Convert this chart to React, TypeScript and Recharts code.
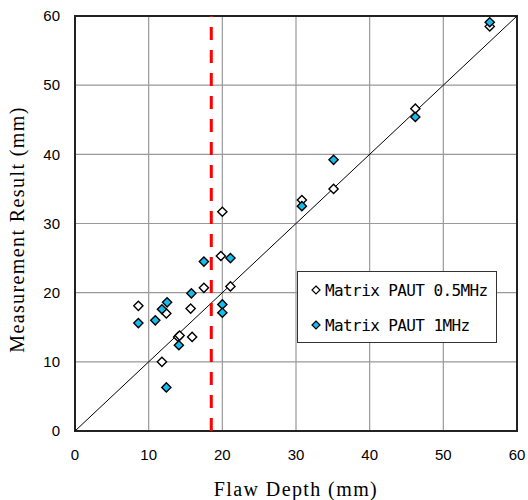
import React from 'react';
import {
  ScatterChart,
  Scatter,
  XAxis,
  YAxis,
  CartesianGrid,
  ReferenceLine,
  ReferenceArea,
} from 'recharts';

// Matrix PAUT 0.5MHz (open diamonds)
const lowX = [8.6, 11.8, 12.4, 14.0, 14.2, 15.9, 15.7, 17.5, 19.8, 20.0, 21.1, 30.8, 35.1, 46.2, 56.3];
const lowY = [18.1, 10.0, 17.0, 13.6, 13.8, 13.6, 17.7, 20.7, 25.3, 31.7, 20.9, 33.4, 35.0, 46.6, 58.5];

// Matrix PAUT 1MHz (filled diamonds)
const highX = [8.6, 10.9, 11.8, 12.5, 12.4, 14.1, 15.8, 17.5, 20.0, 20.0, 21.1, 30.8, 35.1, 46.2, 56.3];
const highY = [15.6, 16.0, 17.6, 18.6, 6.3, 12.4, 19.9, 24.5, 18.3, 17.1, 25.0, 32.5, 39.2, 45.4, 59.1];

const ticks = [0, 10, 20, 30, 40, 50, 60];
const limitDepth = 18.5;

const BLUE = '#14bdf0';

const lowData = lowX.map((x, i) => ({ x, y: lowY[i] }));
const highData = highX.map((x, i) => ({ x, y: highY[i] }));

const Diamond = (fill: string) => (props: any) => {
  const { cx, cy } = props;
  const r = 4.6;
  return (
    <polygon
      points={`${cx},${cy - r} ${cx + r},${cy} ${cx},${cy + r} ${cx - r},${cy}`}
      fill={fill}
      stroke="#000"
      strokeWidth={1.4}
    />
  );
};

const legendItems = [
  { label: 'Matrix PAUT 0.5MHz', fill: '#fff' },
  { label: 'Matrix PAUT 1MHz', fill: BLUE },
];

// legend drawn on top of the plot, inside the lower right area
const LegendBox = () => (
  <div
    style={{
      position: 'absolute',
      left: 297,
      top: 271,
      width: 200,
      height: 72,
      border: '1px solid #333',
      background: '#fff',
      boxSizing: 'border-box',
      paddingTop: 5,
      paddingLeft: 12,
      fontFamily: '"DejaVu Sans Mono", monospace',
      fontSize: 16,
      letterSpacing: -0.6,
      color: '#000',
    }}
  >
    {legendItems.map((it) => (
      <div key={it.label} style={{ display: 'flex', alignItems: 'center', height: 26, marginBottom: 9 }}>
        <svg width={12} height={12} style={{ marginRight: 3 }}>
          <polygon points="6,2 10,6 6,10 2,6" fill={it.fill} stroke="#000" strokeWidth={1.2} />
        </svg>
        <span>{it.label}</span>
      </div>
    ))}
  </div>
);

const tickStyle = { fontFamily: '"Liberation Sans", Arial, sans-serif', fontSize: 15, fill: '#000' };
const titleStyle = { fontFamily: '"Liberation Serif", serif', fontSize: 20, letterSpacing: 1.4, fill: '#000' };

const App: React.FC = () => {
  return (
    <div style={{ position: 'absolute', left: 0, top: 0, width: 528, height: 500, background: '#fff' }}>
      <ScatterChart width={528} height={500} margin={{ top: 16, right: 11, bottom: 0, left: 0 }}>
        <CartesianGrid stroke="#999" strokeWidth={1.2} />
        <XAxis
          type="number"
          dataKey="x"
          domain={[0, 60]}
          ticks={ticks}
          height={69}
          axisLine={false}
          tickLine={false}
          tickSize={6}
          tickMargin={12}
          tick={tickStyle}
          label={{ value: 'Flaw Depth (mm)', position: 'insideBottom', offset: 4, style: titleStyle }}
        />
        <YAxis
          type="number"
          dataKey="y"
          domain={[0, 60]}
          ticks={ticks}
          width={75}
          axisLine={false}
          tickLine={false}
          tickSize={6}
          tickMargin={9}
          tick={tickStyle}
          label={{
            value: 'Measurement Result (mm)',
            angle: -90,
            position: 'insideLeft',
            offset: 17,
            dy: 6,
            style: { ...titleStyle, textAnchor: 'middle' },
          }}
        />
        <ReferenceLine
          segment={[
            { x: 0, y: 0 },
            { x: 60, y: 60 },
          ]}
          stroke="#000"
          strokeWidth={1}
        />
        <ReferenceLine x={limitDepth} stroke="#f00" strokeWidth={3} strokeDasharray="13 10" />
        <ReferenceArea x1={0} x2={60} y1={0} y2={60} fill="none" stroke="#222" strokeWidth={2} />
        <Scatter name="Matrix PAUT 0.5MHz" data={lowData} shape={Diamond('#fff')} isAnimationActive={false} />
        <Scatter name="Matrix PAUT 1MHz" data={highData} shape={Diamond(BLUE)} isAnimationActive={false} />
      </ScatterChart>
      <LegendBox />
    </div>
  );
};

export default App;
